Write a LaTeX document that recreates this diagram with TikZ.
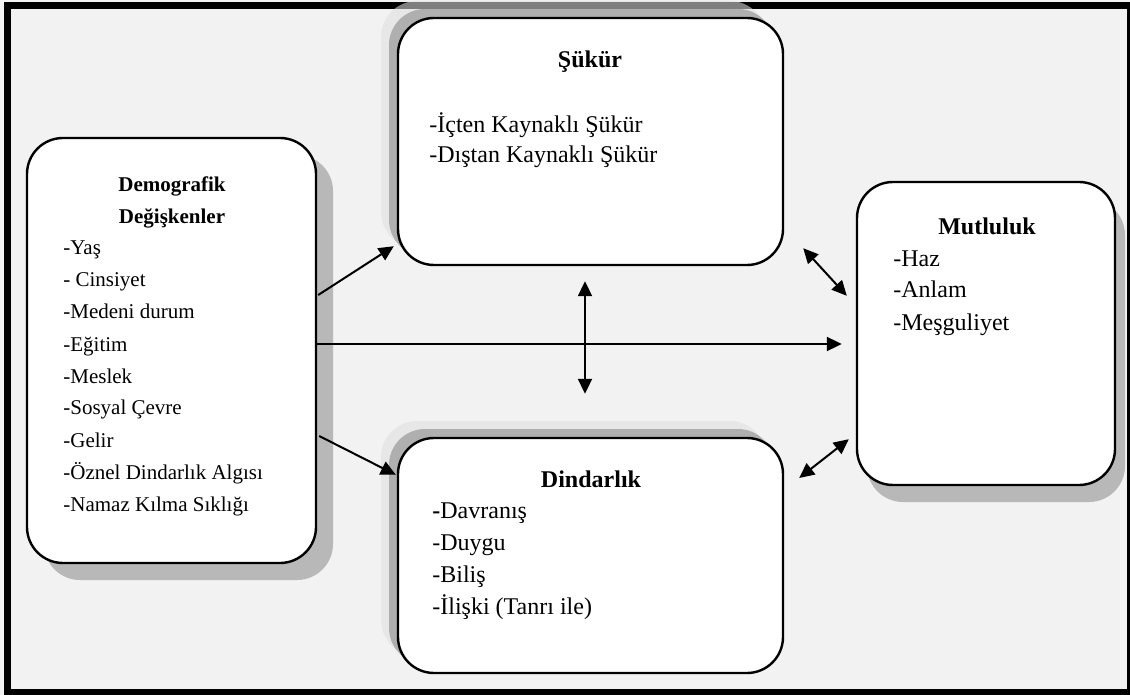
\documentclass[tikz,border=0pt]{standalone}
\usepackage{fontspec}
\setmainfont{Liberation Serif}
\usetikzlibrary{arrows.meta,shadows}

\definecolor{bggray}{HTML}{F2F2F2}
\definecolor{shadegray}{HTML}{B8B8B8}

\tikzset{
  box/.style={draw=black,line width=1.2pt,fill=white,rounded corners=18pt,inner sep=0pt},
  lowshade/.style={drop shadow={shadow xshift=#1,shadow yshift=-8.5pt,fill=shadegray,opacity=1}},
  upshade/.style={drop shadow={shadow xshift=-8.5pt,shadow yshift=8.5pt,fill=white!88!black,opacity=0.57},
                  drop shadow={shadow xshift=-4.5pt,shadow yshift=4.5pt,fill=white!62!black,opacity=0.76}},
  dtitle/.style={font=\fontsize{10.5}{12}\selectfont\bfseries,anchor=base,inner sep=0pt},
  ditem/.style={font=\fontsize{10.5}{12}\selectfont,anchor=base west,inner sep=0pt},
  btitle/.style={font=\fontsize{12}{14}\selectfont\bfseries,anchor=base,inner sep=0pt},
  bitem/.style={font=\fontsize{12}{14}\selectfont,anchor=base west,inner sep=0pt},
  arr/.style={line width=1pt,-{Triangle[length=7.5pt,width=7pt]}},
  darr/.style={line width=1pt,{Triangle[length=7.5pt,width=7pt]}-{Triangle[length=7.5pt,width=7pt]}}
}

\begin{document}
\begin{tikzpicture}[x=0.5pt,y=-0.5pt]
\useasboundingbox (0,0) rectangle (1130,695);
% frame
\fill[bggray] (0,0) rectangle (1130,695);
\fill[black] (4,2) rectangle (1130,695);
\fill[bggray] (11,9) rectangle (1127,689);

% boxes
\node[box,lowshade=8.5pt,minimum width=144.5pt,minimum height=212.5pt] (demo) at (171.5,350.5) {};
\node[box,upshade,minimum width=192.5pt,minimum height=123.5pt] (sukur) at (590.5,141.5) {};
\node[box,upshade,minimum width=192.5pt,minimum height=117.5pt] (dind) at (590.5,555.5) {};
\node[box,lowshade=5pt,minimum width=129pt,minimum height=151.5pt] (mut) at (986,333.5) {};

% Demografik
\node[dtitle] (demoT1) at (172,192) {Demografik};
\node[dtitle] (demoT2) at (172,224) {Değişkenler};
\foreach \t [count=\i] in {-Yaş,- Cinsiyet,-Medeni durum,-Eğitim,-Meslek,-Sosyal Çevre,-Gelir,-Öznel Dindarlık Algısı,-Namaz Kılma Sıklığı}
  \node[ditem] (demo\i) at (63,{255+32*(\i-1)}) {\t};

% Şükür
\node[btitle] (sukurT) at (590,68) {Şükür};
\node[bitem] (sukur1) at (429,133) {-İçten Kaynaklı Şükür};
\node[bitem] (sukur2) at (429,163) {-Dıştan Kaynaklı Şükür};

% Dindarlık
\node[btitle] (dindT) at (591,487) {Dindarlık};
\node[bitem] (dind1) at (432,518) {\textbf{-}Davranış};
\node[bitem] (dind2) at (432,550) {-Duygu};
\node[bitem] (dind3) at (432,582) {-Biliş};
\node[bitem] (dind4) at (432,614) {-İlişki (Tanrı ile)};

% Mutluluk
\node[btitle] (mutT) at (987,235) {Mutluluk};
\node[bitem] (mut1) at (893,267) {-Haz};
\node[bitem] (mut2) at (893,298) {-Anlam};
\node[bitem] (mut3) at (893,330) {-Meşguliyet};

% arrows
\draw[arr] ([xshift=0.5pt,yshift=27.75pt]demo.east) -- ([xshift=-1.5pt,yshift=10pt]sukur.south west);
\draw[arr] ([xshift=1pt,yshift=-42.75pt]demo.east) -- ([xshift=-0.5pt,yshift=-19pt]dind.north west);
\draw[arr] ([yshift=3.25pt]demo.east) -- ([xshift=-7pt,yshift=-5.25pt]mut.west);
\draw[darr] ([xshift=-2.75pt,yshift=-7.5pt]sukur.south) -- ([xshift=-2.75pt,yshift=21.5pt]dind.north);
\draw[darr] ([xshift=9.5pt,yshift=9pt]sukur.south east) -- ([xshift=-4.5pt,yshift=-57.5pt]mut.north west);
\draw[darr] ([xshift=7.5pt,yshift=38.75pt]dind.east) -- ([xshift=-3.5pt,yshift=23.5pt]mut.south west);

\end{tikzpicture}
\end{document}
